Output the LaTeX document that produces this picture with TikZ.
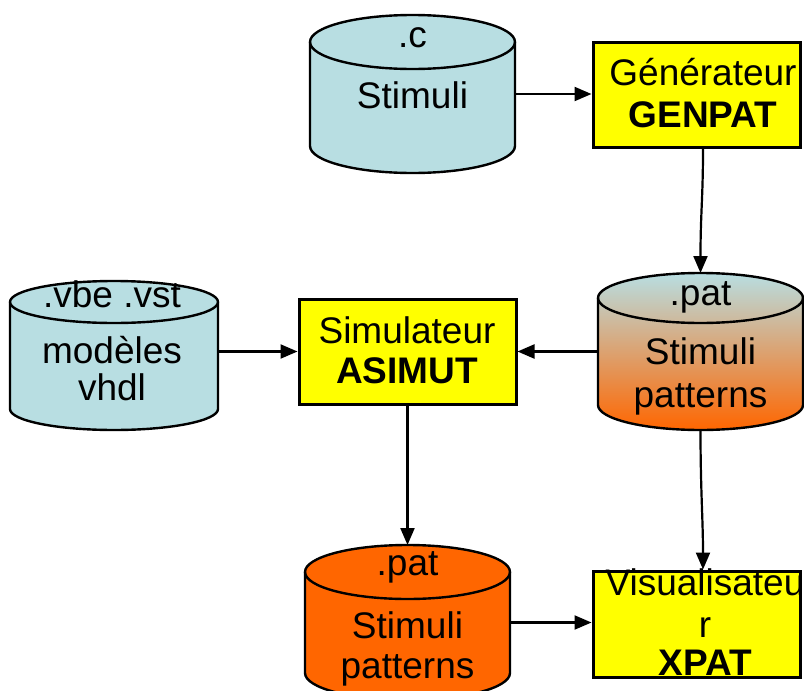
\documentclass[tikz,border=0pt]{standalone}
\usepackage{fontspec}
\setmainfont{Liberation Sans}
\usetikzlibrary{arrows.meta}
\definecolor{lblue}{RGB}{184,222,226}
\definecolor{orng}{RGB}{255,102,0}
\definecolor{ylw}{RGB}{255,255,0}
\newcommand\drawcyl[6]{%
  \pgfmathsetmacro\cylrx{(#2-#1)/2}%
  \pgfmathsetmacro\cylya{-(#3+#5)}%
  \pgfmathsetmacro\cylyb{-(#4-#5)}%
  \path[cylline,#6] (#1,\cylya) -- (#1,\cylyb)
     arc[start angle=180,end angle=360,x radius=\cylrx pt,y radius=#5 pt]
     -- (#2,\cylya)
     arc[start angle=0,end angle=180,x radius=\cylrx pt,y radius=#5 pt] -- cycle;
  \draw[cylline] (#1,\cylya)
     arc[start angle=180,end angle=360,x radius=\cylrx pt,y radius=#5 pt];
}
\tikzset{
  cylline/.style={draw=black,line width=2.4pt},
  hit/.style={rectangle,draw=none,inner sep=0pt,outer sep=0pt},
  toolbox/.style={rectangle,draw=black,fill=ylw,line width=3pt,inner sep=0pt},
  lbl/.style={anchor=base,inner sep=0pt,font=\fontsize{37}{43}\selectfont},
  blbl/.style={lbl,font=\fontsize{37}{43}\selectfont\bfseries},
  arr/.style={line width=2.2pt,-{Triangle[length=17pt,width=14pt]}},
}
\begin{document}
\begin{tikzpicture}[x=1pt,y=1pt]
\useasboundingbox (0,0) rectangle (804,-691);

% cylinders
\drawcyl{310}{515}{15}{173}{27}{fill=lblue}
\node[hit,minimum width=205pt,minimum height=158pt] (c1) at (412.5,-94) {};
\node[lbl] (c1a) at (412.5,-47) {.c};
\node[lbl] (c1b) at (412.5,-108) {Stimuli};

\drawcyl{10}{218}{281}{430}{21}{fill=lblue}
\node[hit,minimum width=208pt,minimum height=149pt] (c3) at (114,-355.5) {};
\node[lbl] (c3a) at (112,-307) {.vbe .vst};
\node[lbl] (c3b) at (112,-363) {modèles};
\node[lbl] (c3c) at (112,-400) {vhdl};

\drawcyl{598}{803}{273}{430}{25}{top color=lblue,bottom color=orng}
\node[hit,minimum width=205pt,minimum height=157pt] (c5) at (700.5,-351.5) {};
\node[lbl] (c5a) at (700.5,-305) {.pat};
\node[lbl] (c5b) at (700.5,-364) {Stimuli};
\node[lbl] (c5c) at (700.5,-407) {patterns};

\drawcyl{305}{510}{545}{700}{27}{fill=orng}
\node[hit,minimum width=205pt,minimum height=155pt] (c6) at (407.5,-622.5) {};
\node[lbl] (c6a) at (407.5,-575) {.pat};
\node[lbl] (c6b) at (407.5,-638) {Stimuli};
\node[lbl] (c6c) at (407.5,-678) {patterns};

% tool boxes
\node[toolbox,minimum width=207pt,minimum height=105pt] (g) at (696.5,-94.5) {};
\node[lbl] (g1) at (703,-85) {Générateur};
\node[blbl] (g2) at (703,-127) {GENPAT};

\node[toolbox,minimum width=217pt,minimum height=105pt] (s) at (407.5,-351.5) {};
\node[lbl] (s1) at (407,-343) {Simulateur};
\node[blbl] (s2) at (407,-383) {ASIMUT};

\node[toolbox,minimum width=207pt,minimum height=106pt] (x) at (696.5,-624) {};
\node[lbl] (x1) at (705,-595) {Visualisateu};
\node[lbl] (x2) at (705,-637) {r};
\node[blbl] (x3) at (705,-675) {XPAT};

% connectors
\draw[arr] (c1.east) -- (c1.east -| g.west);
\draw[arr] ([xshift=6.5pt]g.south) .. controls +(0,-50) and +(0,60) .. (c5.north);
\draw[arr] (c3.east |- s.west) -- (s.west);
\draw[arr] (c5.west) -- (c5.west -| s.east);
\draw[arr] (s.south) -- (s.south |- c6.north);
\draw[arr] (c5.south) .. controls +(0,-60) and +(0,50) .. ([xshift=6.5pt]x.north);
\draw[arr] (c6.east) -- (c6.east -| x.west);
\end{tikzpicture}
\end{document}
